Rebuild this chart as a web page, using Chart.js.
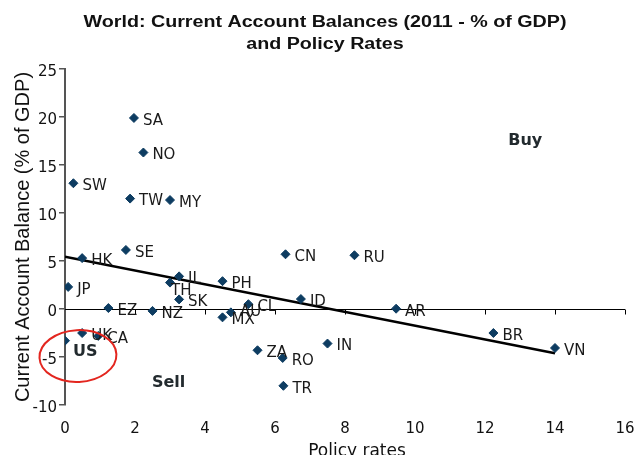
<!DOCTYPE html>
<html>
<head>
<meta charset="utf-8">
<script src="https://cdn.jsdelivr.net/npm/chart.js@4"></script>
<style>
  body { margin: 0; background: #fff; }
</style>
</head>
<body>
<canvas id="scatterChart" width="640" height="455"></canvas>
<script>
// datos
const countries = ['SA', 'NO', 'SW', 'TW', 'MY', 'SE', 'HK', 'JP', 'TH', 'IL', 'PH', 'SK', 'EZ', 'NZ', 'UK',
                   'CA', 'US', 'MX', 'AU', 'CL', 'CN', 'RU', 'ID', 'AR', 'IN', 'ZA', 'RO', 'TR', 'BR', 'VN'];
const policyRates = [1.97, 2.24, 0.24, 1.86, 3.0, 1.74, 0.49, 0.09, 3.0, 3.26, 4.5, 3.26, 1.24, 2.5, 0.49,
                     0.95, 0.0, 4.5, 4.74, 5.24, 6.3, 8.27, 6.74, 9.46, 7.5, 5.5, 6.22, 6.24, 12.24, 14.0];
const currentAccount = [19.9, 16.3, 13.1, 11.5, 11.35, 6.15, 5.3, 2.3, 2.75, 3.4, 2.9, 1.0, 0.1, -0.2, -2.5,
                        -2.8, -3.3, -0.87, -0.35, 0.5, 5.7, 5.6, 1.04, 0.03, -3.6, -4.3, -5.1, -8.0, -2.5, -4.06];

// linea de tendencia (extremos)
const trendX = [0, 14];
const trendY = [5.45, -4.6];

// ejes
const xTicks = [0, 2, 4, 6, 8, 10, 12, 14, 16];
const yTicks = [-10, -5, 0, 5, 10, 15, 20, 25];

// textos
const titleLines = ['World: Current Account Balances (2011 - % of GDP)', 'and Policy Rates'];
const xTitle = 'Policy rates';
const yTitle = 'Current Account Balance (% of GDP)';
const notes = [
    { text: 'Buy', x: 13.15, y: 17.5 },
    { text: 'Sell', x: 2.96, y: -7.74 }
];

const scatterPoints = countries.map((c, i) => ({ x: policyRates[i], y: currentAccount[i] }));
const trendPoints = trendX.map((x, i) => ({ x: x, y: trendY[i] }));

// desplazamientos de las etiquetas (solo estilo)
const labelOffsets = {
    TH: { dx: 1, dy: 9 },
    AU: { dx: 9, dy: 0 },
    US: { dx: 8, dy: 11, bold: true }
};

// eje horizontal dibujado en y = 0
const zeroAxisPlugin = {
    id: 'zeroAxis',
    beforeDatasetsDraw(chart) {
        const { ctx, chartArea, scales } = chart;
        const y0 = Math.round(scales.y.getPixelForValue(0)) + 0.5;
        ctx.save();
        ctx.strokeStyle = '#000';
        ctx.lineWidth = 1;
        ctx.beginPath();
        ctx.moveTo(chartArea.left, y0);
        ctx.lineTo(chartArea.right, y0);
        xTicks.forEach(t => {
            if (t === 0) return;
            const px = Math.round(scales.x.getPixelForValue(t)) + 0.5;
            ctx.moveTo(px, y0);
            ctx.lineTo(px, y0 + 5);
        });
        ctx.stroke();
        ctx.restore();
    }
};

// titulo (algo ensanchado, como en la imagen original) y titulo del eje X
const titlesPlugin = {
    id: 'titles',
    afterDraw(chart) {
        const { ctx, chartArea } = chart;
        ctx.save();
        ctx.fillStyle = '#111';
        ctx.textAlign = 'center';
        ctx.textBaseline = 'alphabetic';
        ctx.font = 'bold 16px "Liberation Sans", Arial';
        const cx = chart.width / 2 + 5;
        [27, 48.5].forEach((ty, i) => {
            ctx.save();
            ctx.translate(cx, ty);
            ctx.scale(1.23, 1);
            ctx.fillText(titleLines[i], 0, 0);
            ctx.restore();
        });

        ctx.font = '17px "DejaVu Sans"';
        ctx.fillText(xTitle, (chartArea.left + chartArea.right) / 2 + 12, 456);
        ctx.restore();
    }
};

// etiquetas de paises, notas y circulo rojo
const labelsPlugin = {
    id: 'pointLabels',
    afterDatasetsDraw(chart) {
        const { ctx, scales } = chart;
        const meta = chart.getDatasetMeta(0);
        ctx.save();
        ctx.textAlign = 'left';
        ctx.textBaseline = 'middle';
        meta.data.forEach((pt, i) => {
            const name = countries[i];
            const off = labelOffsets[name] || { dx: 9, dy: 3 };
            ctx.font = off.bold ? 'bold 16px "DejaVu Sans"' : '15px "DejaVu Sans"';
            ctx.fillStyle = off.bold ? '#222a2e' : '#1a1a1a';
            ctx.fillText(name, pt.x + off.dx, pt.y + off.dy);
        });

        ctx.font = 'bold 16px "DejaVu Sans"';
        ctx.fillStyle = '#222a2e';
        ctx.textAlign = 'center';
        notes.forEach(n => {
            ctx.fillText(n.text, scales.x.getPixelForValue(n.x), scales.y.getPixelForValue(n.y));
        });

        // circulo alrededor de US
        const cx = scales.x.getPixelForValue(0.37);
        const cy = scales.y.getPixelForValue(-4.9);
        const rx = scales.x.getPixelForValue(1.1) - scales.x.getPixelForValue(0);
        const ry = scales.y.getPixelForValue(0) - scales.y.getPixelForValue(2.7);
        ctx.strokeStyle = '#e3261f';
        ctx.lineWidth = 2;
        ctx.beginPath();
        ctx.ellipse(cx, cy, rx, ry, -0.05, 0, Math.PI * 2);
        ctx.stroke();
        ctx.restore();
    }
};

const ctxScatter = document.getElementById('scatterChart');

new Chart(ctxScatter, {
    type: 'scatter',
    data: {
        datasets: [{
            label: 'Países',
            data: scatterPoints,
            pointStyle: 'rectRot',
            pointRadius: 4.5,
            backgroundColor: '#0d3c61',
            borderColor: '#0d3c61',
            borderWidth: 1
        }, {
            type: 'line',
            label: 'Tendencia',
            data: trendPoints,
            borderColor: '#000',
            borderWidth: 2.5,
            pointRadius: 0,
            fill: false
        }]
    },
    options: {
        responsive: false,
        animation: false,
        layout: { padding: { top: 69, left: 0, right: 15, bottom: 0 } },
        plugins: {
            legend: { display: false },
            tooltip: { enabled: false },
            title: { display: false }
        },
        scales: {
            x: {
                type: 'linear',
                min: 0,
                max: 16,
                afterFit: (scale) => {
                    scale.height = 50;
                    scale.paddingLeft = 0;
                    scale.paddingRight = 0;
                },
                afterBuildTicks: (scale) => { scale.ticks = xTicks.map(v => ({ value: v })); },
                border: { display: false },
                grid: { display: false, drawTicks: false },
                ticks: {
                    padding: 15,
                    color: '#111',
                    font: { family: '"DejaVu Sans"', size: 15 }
                },
                title: { display: false }
            },
            y: {
                type: 'linear',
                min: -10,
                max: 25,
                afterFit: (scale) => { scale.width = 65; },
                afterBuildTicks: (scale) => { scale.ticks = yTicks.map(v => ({ value: v })); },
                border: { display: true, color: '#555', width: 2 },
                grid: { drawOnChartArea: false, drawTicks: true, tickLength: 6, color: '#555', lineWidth: 1.5 },
                ticks: {
                    padding: 2,
                    labelOffset: 3,
                    color: '#111',
                    font: { family: '"DejaVu Sans"', size: 15 }
                },
                title: {
                    display: true,
                    text: yTitle,
                    color: '#111',
                    font: { family: '"Liberation Sans", Arial', size: 20, lineHeight: 1.2 },
                    padding: { top: 11, bottom: 0 }
                }
            }
        }
    },
    plugins: [zeroAxisPlugin, labelsPlugin, titlesPlugin]
});
</script>
</body>
</html>
